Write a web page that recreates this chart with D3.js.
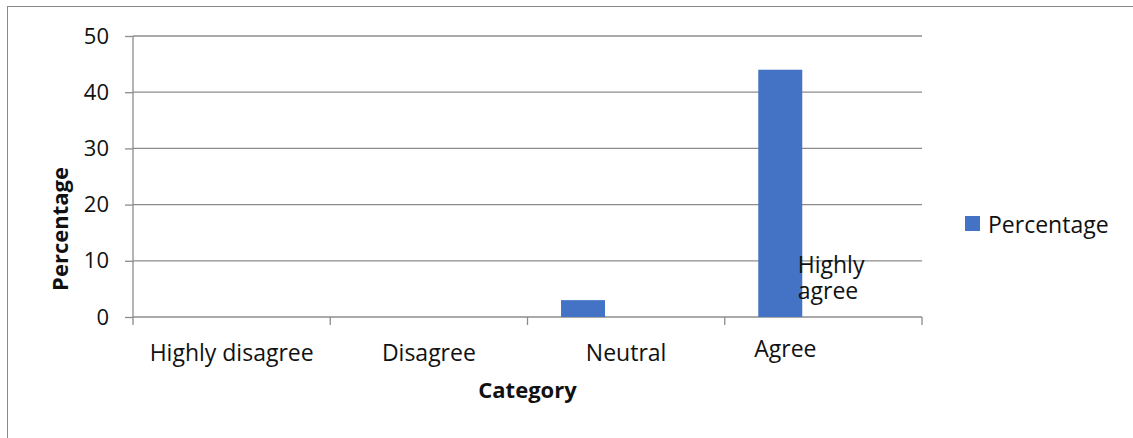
<!DOCTYPE html>
<html>
<head>
<meta charset="utf-8">
<script src="https://cdn.jsdelivr.net/npm/d3@7"></script>
<style>
  html, body { margin: 0; padding: 0; background: #fff; }
  svg { display: block; font-family: "Open Sans", "Noto Sans", sans-serif; }
</style>
</head>
<body>
<svg id="chart" width="1133" height="438"></svg>
<script>
// Survey responses by category (percentage of respondents)
const categories = ["Highly disagree", "Disagree", "Neutral", "Agree"];
const percentages = [0, 0, 3, 44];
const yTicks = [0, 10, 20, 30, 40, 50];
const seriesName = "Percentage";
const extraLabel = ["Highly", "agree"];

(function draw() {
  const svg = d3.select("#chart");
  const W = 1133, H = 438;
  const plotLeft = 133, plotRight = 922, plotTop = 36, plotBottom = 317;
  const grid = "#8c8c8c";
  const barColor = "#4472C4";
  const textColor = "#111";
  const labelSize = 23;

  // Outer chart frame (only top and left edges fall inside the view)
  svg.append("rect")
    .attr("x", 7.5).attr("y", 6.5)
    .attr("width", W + 20).attr("height", H + 20)
    .attr("fill", "none").attr("stroke", "#8a8a8a").attr("stroke-width", 1);

  const x = d3.scaleBand().domain(categories).range([plotLeft, plotRight]).padding(0);
  const y = d3.scaleLinear().domain([0, 50]).range([plotBottom, plotTop]);

  // Horizontal gridlines with left tick marks and labels
  const yAxis = d3.axisLeft(y).tickValues(yTicks).tickSize(8).tickPadding(16).tickFormat(d3.format("d"));
  const gy = svg.append("g").attr("transform", `translate(${plotLeft},0)`).call(yAxis);
  gy.select(".domain").remove();
  gy.selectAll(".tick line").attr("stroke", grid).attr("stroke-width", 1.3);
  gy.selectAll(".tick text").attr("fill", textColor).attr("font-size", 22)
    .attr("font-family", "'Open Sans', sans-serif");

  svg.append("g").selectAll("line").data(yTicks).join("line")
    .attr("x1", plotLeft).attr("x2", plotRight)
    .attr("y1", d => y(d)).attr("y2", d => y(d))
    .attr("stroke", grid).attr("stroke-width", 1.3);

  // Vertical axis line
  svg.append("line")
    .attr("x1", plotLeft).attr("x2", plotLeft).attr("y1", plotTop).attr("y2", plotBottom)
    .attr("stroke", grid).attr("stroke-width", 1.3);

  // Category boundary ticks on the x axis
  const bounds = categories.map(c => x(c)).concat([x.range()[1]]);
  svg.append("g").selectAll("line").data(bounds).join("line")
    .attr("x1", d => d).attr("x2", d => d)
    .attr("y1", plotBottom).attr("y2", plotBottom + 8)
    .attr("stroke", grid).attr("stroke-width", 1.3);

  // Bars
  const bw = x.bandwidth();
  svg.append("g").selectAll("rect").data(categories).join("rect")
    .attr("x", c => x(c) + bw * 0.17)
    .attr("width", bw * 0.223)
    .attr("y", (c, i) => y(percentages[i]))
    .attr("height", (c, i) => y(0) - y(percentages[i]))
    .attr("fill", barColor);

  // Category labels
  const labelShift = { "Agree": [-38, -4] };
  svg.append("g").selectAll("text").data(categories).join("text")
    .attr("x", c => x(c) + bw / 2 + (labelShift[c] ? labelShift[c][0] : 0))
    .attr("y", c => 361 + (labelShift[c] ? labelShift[c][1] : 0))
    .attr("text-anchor", "middle")
    .attr("font-size", labelSize)
    .attr("fill", textColor)
    .text(c => c);

  // Wrapped label sitting beside the tallest bar
  svg.append("text")
    .attr("x", x("Agree") + bw * 0.37)
    .attr("y", 273)
    .attr("font-size", labelSize)
    .attr("fill", textColor)
    .selectAll("tspan").data(extraLabel).join("tspan")
    .attr("x", x("Agree") + bw * 0.37)
    .attr("dy", (d, i) => i === 0 ? 0 : 26)
    .text(d => d);

  // Axis titles
  svg.append("text")
    .attr("x", (plotLeft + plotRight) / 2).attr("y", 398)
    .attr("text-anchor", "middle")
    .attr("font-size", 22).attr("font-weight", "bold")
    .attr("fill", textColor)
    .text("Category");

  svg.append("text")
    .attr("transform", "translate(68,229) rotate(-90)")
    .attr("text-anchor", "middle")
    .attr("font-size", 22).attr("font-weight", "bold")
    .attr("fill", textColor)
    .text("Percentage");

  // Legend
  const lg = svg.append("g").attr("transform", "translate(965,216)");
  lg.append("rect").attr("width", 15).attr("height", 15).attr("fill", barColor);
  lg.append("text").attr("x", 23).attr("y", 17)
    .attr("font-size", labelSize).attr("fill", textColor).text(seriesName);
})();
</script>
</body>
</html>
